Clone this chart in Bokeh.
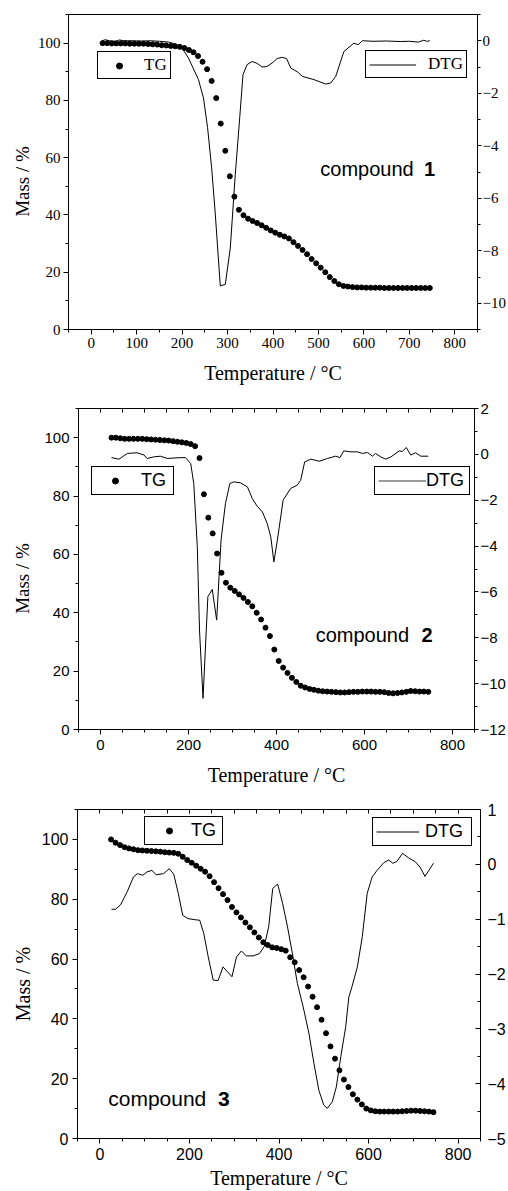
from bokeh.plotting import figure
from bokeh.models import Range1d, LinearAxis, FixedTicker, Legend, LegendItem, Label, ColumnDataSource
from bokeh.embed import file_html
from bokeh.resources import INLINE

SERIF = "Liberation Serif"
SANS = "Liberation Sans"

# ---------------- data ----------------
TEMP_TG = [25, 35, 45, 55, 65, 75, 85, 95, 105, 115, 125, 135, 145, 155, 165, 175, 185, 195,
           205, 215, 225, 235, 245, 255, 265, 275, 285, 295, 305, 315, 325, 335, 345, 355,
           365, 375, 385, 395, 405, 415, 425, 435, 445, 455, 465, 475, 485, 495, 505, 515,
           525, 535, 545, 555, 565, 575, 585, 595, 605, 615, 625, 635, 645, 655, 665, 675,
           685, 695, 705, 715, 725, 735, 745]

TG1 = [100.0, 100.0, 99.9, 99.9, 99.9, 99.9, 99.8, 99.8, 99.8, 99.8, 99.7, 99.6, 99.5, 99.3,
       99.2, 99.0, 98.9, 98.7, 98.3, 97.6, 96.8, 95.5, 93.5, 90.9, 86.8, 80.8, 71.9, 62.4,
       53.5, 46.4, 41.8, 39.9, 38.7, 37.9, 37.2, 36.4, 35.5, 34.6, 33.8, 33.1, 32.5, 31.8,
       30.5, 29.2, 27.8, 26.3, 24.6, 23.1, 21.6, 20.0, 18.3, 16.9, 15.8, 15.2, 15.0, 14.8,
       14.7, 14.7, 14.6, 14.6, 14.6, 14.6, 14.5, 14.5, 14.5, 14.5, 14.5, 14.5, 14.5, 14.5,
       14.5, 14.5, 14.5]

TG2 = [100.0, 100.0, 99.8, 99.6, 99.6, 99.6, 99.6, 99.6, 99.5, 99.4, 99.3, 99.2, 99.1, 99.0,
       98.8, 98.6, 98.4, 98.2, 97.8, 97.1, 93.0, 80.6, 72.6, 67.2, 60.3, 53.7, 50.3, 48.6,
       47.5, 46.3, 45.1, 43.7, 42.2, 40.0, 37.7, 34.9, 32.0, 27.4, 23.5, 21.2, 19.4, 17.7,
       16.3, 15.0, 14.4, 13.9, 13.6, 13.3, 13.1, 13.0, 12.9, 12.8, 12.7, 12.7, 12.8, 12.9,
       12.9, 13.0, 13.0, 13.0, 12.9, 12.9, 12.8, 12.5, 12.4, 12.5, 12.7, 12.9, 13.2, 13.1,
       13.0, 13.0, 12.9]

TG3 = [100.0, 98.9, 98.1, 97.4, 97.0, 96.7, 96.4, 96.3, 96.2, 96.1, 96.0, 95.9, 95.7, 95.6,
       95.5, 95.2, 94.2, 93.1, 92.2, 91.2, 90.2, 89.2, 87.7, 85.7, 83.7, 81.7, 79.7, 77.4,
       75.6, 73.9, 72.2, 70.6, 68.9, 67.2, 65.6, 64.7, 63.9, 63.7, 63.3, 62.8, 60.6, 58.9,
       56.3, 53.9, 50.8, 47.4, 43.9, 39.7, 35.2, 30.8, 26.7, 22.8, 19.7, 17.2, 14.8, 13.0,
       11.4, 10.0, 9.4, 9.1, 9.0, 9.0, 9.0, 9.0, 9.0, 9.1, 9.2, 9.3, 9.3, 9.2, 9.1, 9.0, 8.8]

DTG1_T = [24, 31, 40, 55, 62, 72, 90, 110, 130, 150, 170, 185, 200, 214, 236, 247, 256, 265,
          273, 284, 295, 306, 317, 327, 334, 343, 354, 365, 376, 387, 398, 409, 420, 430, 439,
          454, 465, 490, 516, 527, 538, 556, 578, 587, 597, 620, 650, 680, 700, 720, 732, 738, 745]
DTG1 = [0.0, 0.04, 0.0, -0.02, 0.03, 0.0, 0.0, -0.01, 0.0, -0.02, -0.05, -0.12, -0.28, -0.66,
        -1.48, -2.18, -3.3, -4.84, -6.6, -9.34, -9.28, -7.9, -5.1, -2.88, -1.29, -0.91, -0.79,
        -0.86, -1.0, -0.98, -0.85, -0.68, -0.63, -0.68, -1.04, -1.19, -1.36, -1.48, -1.65,
        -1.61, -1.36, -0.41, -0.09, -0.15, 0.0, -0.02, -0.01, -0.03, -0.02, -0.05, 0.02, -0.02, 0.0]

DTG2_T = [25, 42, 61, 83, 99, 106, 121, 136, 152, 174, 193, 205, 212, 220, 225, 233, 244, 254,
          264, 274, 284, 294, 303, 318, 334, 345, 356, 368, 379, 387, 394, 402, 415, 432, 447,
          455, 464, 478, 497, 516, 534, 544, 553, 569, 584, 595, 607, 618, 625, 637, 648, 660,
          679, 686, 695, 705, 716, 728, 745]
DTG2 = [-0.14, -0.21, 0.04, 0.07, -0.03, -0.18, -0.11, -0.08, -0.18, -0.15, -0.14, -0.4, -1.27,
        -4.03, -7.66, -10.64, -6.21, -5.89, -7.23, -3.74, -2.14, -1.27, -1.2, -1.24, -1.42,
        -1.93, -2.26, -2.51, -3.02, -3.6, -4.69, -3.74, -2.0, -1.49, -1.34, -1.13, -0.33, -0.21,
        -0.3, -0.18, -0.08, -0.14, 0.15, 0.11, 0.11, 0.04, 0.08, -0.08, 0.04, -0.11, -0.21,
        -0.11, 0.15, 0.13, 0.3, -0.03, 0.07, -0.08, -0.08]

DTG3_T = [26, 35, 46, 61, 75, 84, 96, 105, 116, 126, 142, 155, 165, 175, 185, 197, 212, 223,
          232, 242, 253, 264, 275, 285, 295, 305, 316, 327, 342, 356, 367, 377, 386, 397, 408,
          419, 430, 441, 454, 467, 478, 489, 500, 508, 519, 528, 538, 549, 556, 563, 575, 586,
          597, 608, 619, 634, 645, 654, 663, 676, 689, 704, 715, 726, 745]
DTG3 = [-0.82, -0.82, -0.74, -0.5, -0.23, -0.17, -0.2, -0.14, -0.11, -0.19, -0.17, -0.08, -0.18,
        -0.53, -0.93, -0.99, -1.01, -1.02, -1.26, -1.69, -2.11, -2.12, -1.87, -1.96, -2.05,
        -1.69, -1.58, -1.67, -1.67, -1.63, -1.5, -1.14, -0.44, -0.36, -0.71, -1.14, -1.63,
        -2.17, -2.6, -3.09, -3.63, -4.12, -4.39, -4.45, -4.33, -4.06, -3.51, -2.96, -2.42,
        -2.23, -1.87, -1.32, -0.53, -0.23, -0.11, 0.03, 0.08, 0.02, 0.05, 0.2, 0.12, 0.05,
        -0.05, -0.22, 0.02]

X_MAJOR_1 = [0, 100, 200, 300, 400, 500, 600, 700, 800]
X_MAJOR_23 = [0, 200, 400, 600, 800]
X_MINOR = [-50, 0, 50, 100, 150, 200, 250, 300, 350, 400, 450, 500, 550, 600, 650, 700, 750, 800, 850]
Y_MAJOR = [0, 20, 40, 60, 80, 100]
Y_MINOR = [0, 10, 20, 30, 40, 50, 60, 70, 80, 90, 100, 110]
R1_MAJOR = [-10, -8, -6, -4, -2, 0]
R1_MINOR = [-11, -10, -9, -8, -7, -6, -5, -4, -3, -2, -1, 0, 1]
R2_MAJOR = [-12, -10, -8, -6, -4, -2, 0, 2]
R2_MINOR = [-12, -11, -10, -9, -8, -7, -6, -5, -4, -3, -2, -1, 0, 1, 2]
R3_MAJOR = [-5, -4, -3, -2, -1, 0, 1]
R3_MINOR = [-5, -4.5, -4, -3.5, -3, -2.5, -2, -1.5, -1, -0.5, 0, 0.5, 1]

NBSP = "\u00a0"

PANELS = [
    dict(tg=TG1, dt=DTG1_T, d=DTG1, rr=(-11, 1), rmaj=R1_MAJOR, rmin=R1_MINOR, xmaj=X_MAJOR_1,
         height=390, bl=68, br=31, bt=14, bb=61, tickfont=SERIF, ticksize="15px",
         x_std=3, x_lstd=11, x_tsize="20px", y_std=3, y_lstd=2, y_tsize="19px",
         r_in=0, r_out=4, r_std=1, top=False,
         legfont=SERIF, legsize="17px",
         tg_leg=dict(loc=(29, 250), gw=36, std=7, lw=20),
         dtg_leg=dict(loc=(297, 251), gw=47, std=12, lw=20, color="black"),
         comp=("1", 504, 56, 732.5, "20px")),
    dict(tg=TG2, dt=DTG2_T, d=DTG2, rr=(-12, 2), rmaj=R2_MAJOR, rmin=R2_MINOR, xmaj=X_MAJOR_23,
         height=402, bl=78, br=34, bt=18, bb=63, tickfont=SANS, ticksize="15px",
         x_std=5, x_lstd=11, x_tsize="20px", y_std=4, y_lstd=8, y_tsize="19px",
         r_in=0, r_out=4, r_std=2, top=True,
         legfont=SANS, legsize="18px",
         tg_leg=dict(loc=(13, 234), gw=40, std=6, lw=29),
         dtg_leg=dict(loc=(296, 234), gw=48, std=0, lw=40, color="#7a7a7a"),
         comp=("2", 489, 32.3, 729.5, "20px")),
    dict(tg=TG3, dt=DTG3_T, d=DTG3, rr=(-5, 1), rmaj=R3_MAJOR, rmin=R3_MINOR, xmaj=X_MAJOR_23,
         height=399, bl=77, br=26, bt=17, bb=53, tickfont=SANS, ticksize="16px",
         x_std=4, x_lstd=4, x_tsize="20px", y_std=4, y_lstd=5, y_tsize="20px",
         r_in=5, r_out=0, r_std=7, top=True,
         legfont=SANS, legsize="18px",
         tg_leg=dict(loc=(67, 293), gw=42, std=1, lw=28),
         dtg_leg=dict(loc=(295, 292), gw=43, std=6, lw=43, color="black"),
         comp=("3", 18.6, 13.3, 264, "21px")),
]


def style_axis(ax, font, size):
    ax.axis_line_color = "black"
    ax.axis_line_width = 1
    ax.major_tick_line_color = "black"
    ax.minor_tick_line_color = "black"
    ax.major_label_text_font = font
    ax.major_label_text_font_size = size
    ax.major_label_text_color = "black"
    ax.axis_label_text_font = SERIF
    ax.axis_label_text_font_style = "normal"
    ax.axis_label_text_color = "black"


figs = []
for cfg in PANELS:
    p = figure(width=508, height=cfg["height"], x_range=Range1d(-50, 850), y_range=Range1d(0, 110),
               output_backend="svg", toolbar_location=None,
               min_border_left=cfg["bl"], min_border_right=cfg["br"],
               min_border_top=cfg["bt"], min_border_bottom=cfg["bb"])
    p.extra_y_ranges = {"dtg": Range1d(*cfg["rr"])}
    p.xgrid.visible = False
    p.ygrid.visible = False
    p.outline_line_color = "black"
    p.outline_line_width = 1
    p.outline_line_alpha = 1
    p.background_fill_color = "white"
    p.border_fill_color = "white"

    xa = p.xaxis[0]
    xa.ticker = FixedTicker(ticks=cfg["xmaj"], minor_ticks=X_MINOR)
    style_axis(xa, cfg["tickfont"], cfg["ticksize"])
    xa.major_tick_out = 5
    xa.major_tick_in = 0
    xa.minor_tick_out = 3
    xa.minor_tick_in = 0
    xa.major_label_standoff = cfg["x_std"]
    xa.axis_label = "Temperature / °C"
    xa.axis_label_text_font_size = cfg["x_tsize"]
    xa.axis_label_standoff = cfg["x_lstd"]

    ya = p.yaxis[0]
    ya.ticker = FixedTicker(ticks=Y_MAJOR, minor_ticks=Y_MINOR)
    style_axis(ya, cfg["tickfont"], cfg["ticksize"])
    ya.major_tick_out = 5
    ya.major_tick_in = 0
    ya.minor_tick_out = 3
    ya.minor_tick_in = 0
    ya.major_label_standoff = cfg["y_std"]
    ya.axis_label = "Mass / %" + NBSP * 4
    ya.axis_label_text_font_size = cfg["y_tsize"]
    ya.axis_label_standoff = cfg["y_lstd"]

    ra = LinearAxis(y_range_name="dtg", ticker=FixedTicker(ticks=cfg["rmaj"], minor_ticks=cfg["rmin"]))
    style_axis(ra, cfg["tickfont"], cfg["ticksize"])
    ra.major_tick_out = cfg["r_out"]
    ra.major_tick_in = cfg["r_in"]
    ra.minor_tick_out = 3 if cfg["r_out"] else 0
    ra.minor_tick_in = 3 if cfg["r_in"] else 0
    ra.major_label_standoff = cfg["r_std"]
    p.add_layout(ra, "right")

    if cfg["top"]:
        ta = LinearAxis(ticker=FixedTicker(ticks=X_MINOR, minor_ticks=[]))
        style_axis(ta, cfg["tickfont"], "1px")
        ta.major_label_overrides = {t: "" for t in X_MINOR}
        ta.major_tick_in = 4
        ta.major_tick_out = 0
        ta.minor_tick_in = 0
        ta.minor_tick_out = 0
        ta.major_label_standoff = 0
        p.add_layout(ta, "above")

    src_tg = ColumnDataSource(dict(t=TEMP_TG, m=cfg["tg"]))
    src_d = ColumnDataSource(dict(t=cfg["dt"], d=cfg["d"]))
    r_line = p.line("t", "d", source=src_d, y_range_name="dtg", line_color="black", line_width=1)
    r_tg = p.scatter("t", "m", source=src_tg, marker="circle", size=5,
                     fill_color="black", line_color="black")

    if cfg["dtg_leg"]["color"] == "black":
        leg_line = r_line
    else:
        # legend-only proxy (no visible data) drawn in the lighter legend colour
        leg_line = p.line(x=[float("nan")], y=[float("nan")], line_color=cfg["dtg_leg"]["color"],
                          line_width=1.3)

    for item, rend in (("TG", r_tg), ("DTG", leg_line)):
        lc = cfg["tg_leg"] if item == "TG" else cfg["dtg_leg"]
        leg = Legend(items=[LegendItem(label=item, renderers=[rend])], location=lc["loc"],
                     padding=3, spacing=0, margin=0, glyph_width=lc["gw"],
                     glyph_height=15 if item == "TG" else 19,
                     label_height=19, label_width=lc["lw"], label_standoff=lc["std"],
                     label_text_font=cfg["legfont"], label_text_font_size=cfg["legsize"],
                     label_text_color="black", border_line_color="black", border_line_width=1,
                     border_line_alpha=1, background_fill_color="white", background_fill_alpha=1)
        p.add_layout(leg)

    num, cx, cy, nx, csize = cfg["comp"]
    p.add_layout(Label(x=cx, y=cy, text="compound", text_font=SANS, text_font_size=csize,
                       text_baseline="middle", text_align="left", text_color="black"))
    p.add_layout(Label(x=nx, y=cy, text=num, text_font=SANS, text_font_size=csize,
                       text_font_style="bold", text_baseline="middle", text_align="left",
                       text_color="black"))
    figs.append(p)

open("out.html", "w").write(file_html(figs, INLINE))
